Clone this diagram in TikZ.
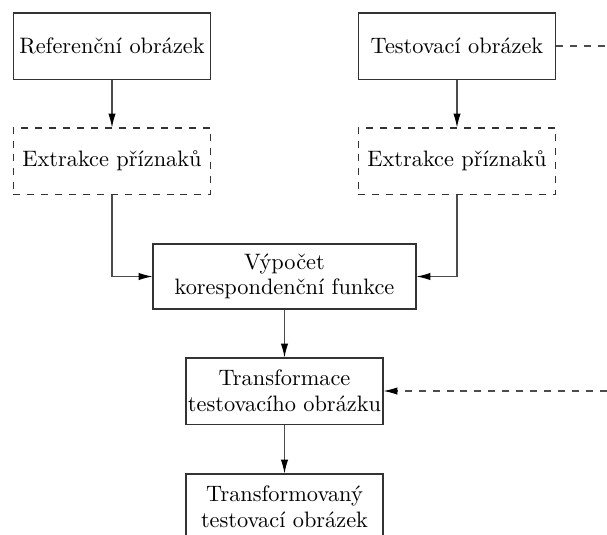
\documentclass[tikz,border=0pt]{standalone}
\usetikzlibrary{arrows.meta}
\begin{document}
\begin{tikzpicture}[x=0.43pt,y=-0.43pt,
  every node/.style={font=\fontsize{9.6}{11}\selectfont, align=center, inner sep=0pt, text=black},
  box/.style={draw=black!80, line width=0.45pt, minimum width=85.1pt, minimum height=28.4pt},
  dbox/.style={box, dashed},
  conn/.style={draw=black!70, line width=0.45pt, -{Latex[length=6pt,width=3.2pt,color=black]}},
  dconn/.style={conn, dashed},
  dline/.style={draw=black!70, line width=0.45pt, dashed}]
\path[use as bounding box, clip] (0,0) rectangle (607,534);
\node[box] (ref) at (112,46) {Referenční obrázek};
\node[box] (test) at (457,46) {Testovací obrázek};
\node[dbox] (ext1) at (112,161) {Extrakce příznaků};
\node[dbox] (ext2) at (457,161) {Extrakce příznaků};
\node[box, minimum width=113.1pt, minimum height=27.95pt] (vyp) at (284.5,276.5) {Výpočet\\korespondenční funkce};
\node[box, minimum width=84.7pt] (trans) at (284.5,391) {Transformace\\testovacího obrázku};
\node[box, minimum width=84.7pt] (out) at (284.5,507) {Transformovaný\\testovací obrázek};
\coordinate (tr) at (607,46);
\coordinate (dr) at (607,391);
\draw[dline] (test.east) -- (tr);
\draw[conn] (ref.south) -- (ext1.north);
\draw[conn] (test.south) -- (ext2.north);
\draw[conn] (ext1.south) |- (vyp.west);
\draw[conn] (ext2.south) |- (vyp.east);
\draw[conn] (vyp.south) -- (trans.north);
\draw[dconn] (dr) -- (trans.east);
\draw[conn] (trans.south) -- (out.north);
\end{tikzpicture}
\end{document}
